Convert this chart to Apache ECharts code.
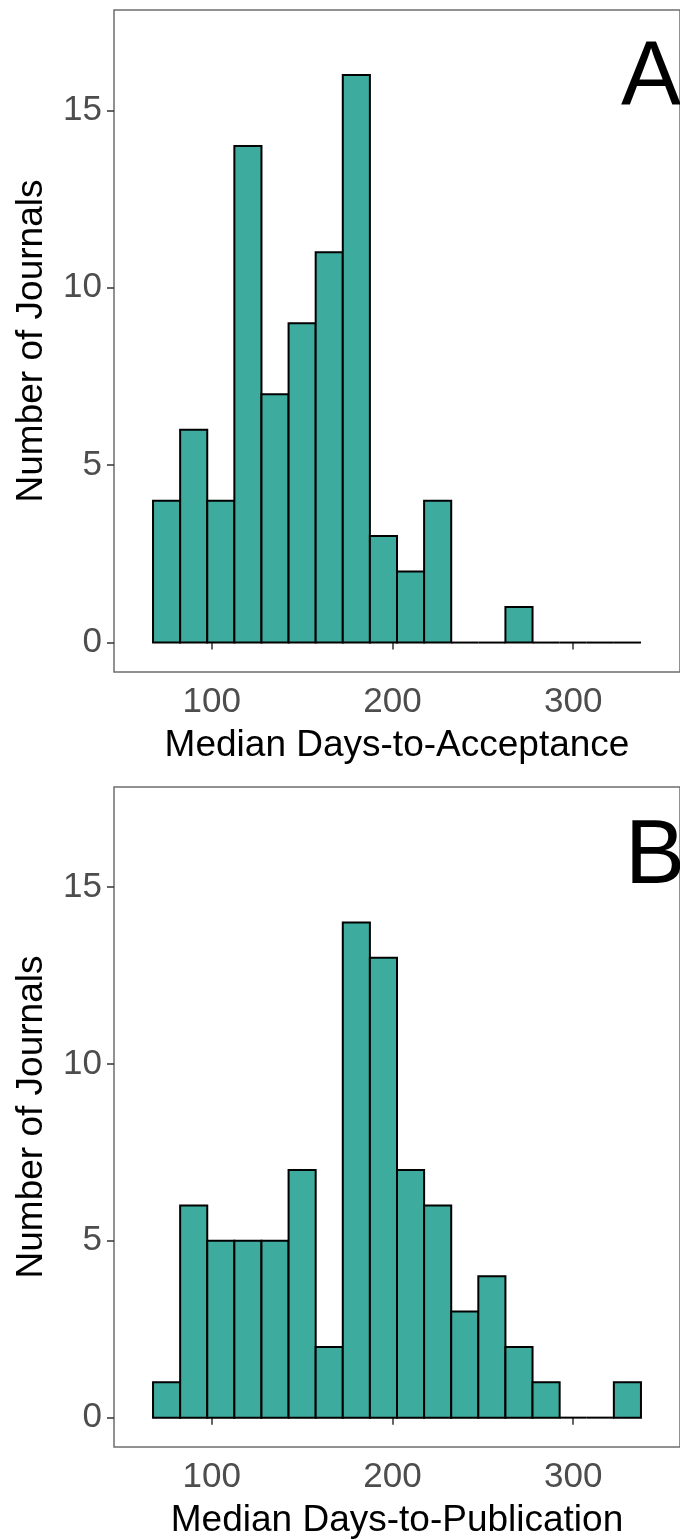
<!DOCTYPE html>
<html>
<head>
<meta charset="utf-8">
<script src="https://cdn.jsdelivr.net/npm/echarts@6/dist/echarts.min.js"></script>
<style>
  html, body { margin: 0; padding: 0; background: #fff; }
  #chart { width: 680px; height: 1540px; }
</style>
</head>
<body>
<div id="chart"></div>
<script>
// histogram bins (left edge of each bin, days) and bin width
const binStarts = [67.5, 82.5, 97.5, 112.5, 127.5, 142.5, 157.5, 172.5, 187.5,
  202.5, 217.5, 232.5, 247.5, 262.5, 277.5, 292.5, 307.5, 322.5]
const binWidth = 15

// counts per bin
const acceptanceCounts = [4, 6, 4, 14, 7, 9, 11, 16, 3, 2, 4, 0, 0, 1, 0, 0, 0, 0]
const publicationCounts = [1, 6, 5, 5, 5, 7, 2, 14, 13, 7, 6, 3, 4, 2, 1, 0, 0, 1]

const xTicks = [100, 200, 300]
const yTicks = [0, 5, 10, 15]

const FONT = 'Liberation Sans, Arial, sans-serif'
const FILL = '#3DAC9F'

function binData(counts) {
  return binStarts.map((s, i) => [s, s + binWidth, counts[i]])
}

function renderBar(params, api) {
  const x0 = api.value(0), x1 = api.value(1), c = api.value(2)
  const p0 = api.coord([x0, c])
  const p1 = api.coord([x1, 0])
  if (c === 0) {
    return {
      type: 'line',
      shape: { x1: p0[0], y1: p1[1], x2: p1[0], y2: p1[1] },
      style: { stroke: '#000', lineWidth: 2 }
    }
  }
  return {
    type: 'rect',
    shape: { x: p0[0], y: p0[1], width: p1[0] - p0[0], height: p1[1] - p0[1] },
    style: { fill: FILL, stroke: '#000', lineWidth: 2 }
  }
}

function xAxisFor(idx, name) {
  return {
    type: 'value',
    gridIndex: idx,
    min: 45.9,
    max: 359.1,
    name: name,
    nameLocation: 'middle',
    nameGap: 55,
    nameTextStyle: { color: '#000', fontSize: 37, fontFamily: FONT },
    axisLine: { show: false },
    axisTick: { show: true, customValues: xTicks, length: 7, lineStyle: { color: '#333', width: 1.5 } },
    axisLabel: { customValues: xTicks, color: '#4D4D4D', fontSize: 35, fontFamily: FONT, margin: 13 },
    splitLine: { show: false }
  }
}

function yAxisFor(idx) {
  return {
    type: 'value',
    gridIndex: idx,
    min: -0.83,
    max: 17.83,
    name: 'Number of Journals',
    nameLocation: 'middle',
    nameGap: 64,
    nameTextStyle: { color: '#000', fontSize: 37, fontFamily: FONT },
    axisLine: { show: false },
    axisTick: { show: true, customValues: yTicks, length: 7, lineStyle: { color: '#333', width: 1.5 } },
    axisLabel: { customValues: yTicks, color: '#4D4D4D', fontSize: 35, fontFamily: FONT, margin: 12 },
    splitLine: { show: false }
  }
}

const chart = echarts.init(document.getElementById('chart'))
chart.setOption({
  animation: false,
  grid: [
    { left: 114, top: 10, width: 570, height: 662, show: true, borderColor: '#6E6E6E', borderWidth: 1.5 },
    { left: 114, top: 787, width: 570, height: 663, show: true, borderColor: '#6E6E6E', borderWidth: 1.5 }
  ],
  xAxis: [xAxisFor(0, 'Median Days-to-Acceptance'), xAxisFor(1, 'Median Days-to-Publication')],
  yAxis: [yAxisFor(0), yAxisFor(1)],
  graphic: [
    { type: 'text', left: 621, top: 34, style: { text: 'A', fontSize: 90, fontFamily: FONT, fill: '#000' } },
    { type: 'text', left: 625, top: 813, style: { text: 'B', fontSize: 90, fontFamily: FONT, fill: '#000' } }
  ],
  series: [
    { type: 'custom', xAxisIndex: 0, yAxisIndex: 0, renderItem: renderBar, data: binData(acceptanceCounts) },
    { type: 'custom', xAxisIndex: 1, yAxisIndex: 1, renderItem: renderBar, data: binData(publicationCounts) }
  ]
})
</script>
</body>
</html>
